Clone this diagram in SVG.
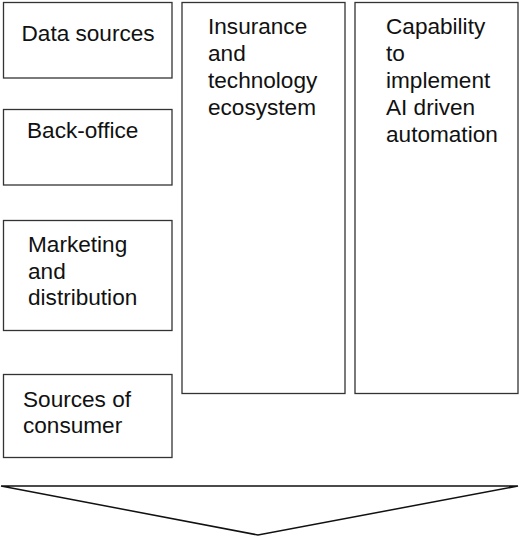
<svg xmlns="http://www.w3.org/2000/svg" width="520" height="537" viewBox="0 0 520 537">
<style>
.box{fill:#fff;stroke:#333;stroke-width:1.3}
text{font-family:"Liberation Sans",Arial,sans-serif;font-size:22.6px;fill:#111}
</style>
<rect width="520" height="537" fill="#fff"/>
<g id="data-sources"><rect class="box" x="3.5" y="2.5" width="168.5" height="75.5"/><text x="21.5" y="41">Data sources</text></g>
<g id="back-office"><rect class="box" x="3.5" y="109.5" width="168.5" height="75.5"/><text x="27" y="138">Back-office</text></g>
<g id="marketing"><rect class="box" x="3.5" y="220.5" width="168.5" height="110"/><text x="28" y="252">Marketing</text><text x="28" y="278.5">and</text><text x="28" y="305">distribution</text></g>
<g id="sources-consumer"><rect class="box" x="3.5" y="374.5" width="168.5" height="83"/><text x="23" y="407">Sources of</text><text x="23" y="433">consumer</text></g>
<g id="ecosystem"><rect class="box" x="182" y="2.5" width="163" height="391"/><text x="208" y="34">Insurance</text><text x="208" y="61">and</text><text x="208" y="88">technology</text><text x="208" y="115">ecosystem</text></g>
<g id="capability"><rect class="box" x="355" y="2.5" width="163" height="391"/><text x="386" y="34">Capability</text><text x="386" y="61">to</text><text x="386" y="88">implement</text><text x="386" y="115">AI driven</text><text x="386" y="142">automation</text></g>
<g id="connectors"><polygon points="1,486 518,486 258,535" fill="#fff" stroke="#111" stroke-width="1.5" stroke-linejoin="miter"/></g>
</svg>
